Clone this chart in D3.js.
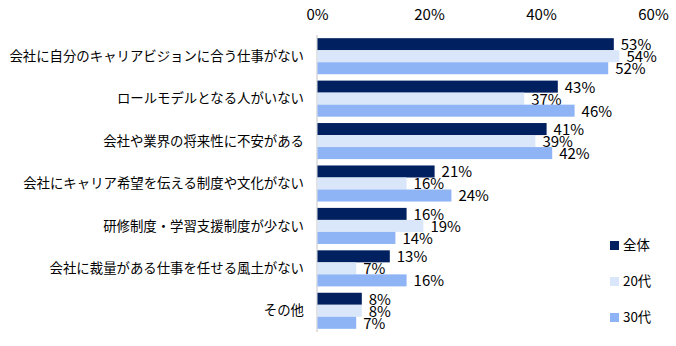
<!DOCTYPE html>
<html><head><meta charset="utf-8">
<script src="https://cdn.jsdelivr.net/npm/d3@7"></script>
<style>body{margin:0;background:#fff}svg{display:block}</style>
</head><body>
<svg id="c" width="676" height="346"></svg>
<script>
const categories = ["会社に自分のキャリアビジョンに合う仕事がない","ロールモデルとなる人がいない","会社や業界の将来性に不安がある","会社にキャリア希望を伝える制度や文化がない","研修制度・学習支援制度が少ない","会社に裁量がある仕事を任せる風土がない","その他"];
const seriesNames = ["全体","20代","30代"];
const total = [53,43,41,21,16,13,8];
const age20 = [54,37,39,16,19,7,8];
const age30 = [52,46,42,24,14,16,7];
const ticks = [0,20,40,60];
const colors = ["#002060","#dae6f9","#8eb4f6"];

const seriesValues = [total, age20, age30];
const svg = d3.select("#c");
const x = d3.scaleLinear().domain([0,60]).range([317,653]);
const y = d3.scaleBand().domain(categories).range([35,332]).paddingInner(0.15).paddingOuter(0.075);
const ys = d3.scaleBand().domain(seriesNames).range([0,y.bandwidth()]);
const jp = "'Noto Sans CJK JP','Noto Sans',sans-serif";
const num = "'Noto Sans CJK JP','Noto Sans',sans-serif";

// top axis labels
const ax = d3.axisTop(x).tickValues(ticks).tickFormat(d=>d+"%").tickSize(0).tickPadding(0);
const axg = svg.append("g").attr("transform","translate(0,20)").call(ax);
axg.select(".domain").remove();
axg.selectAll("text").attr("font-family",num).attr("font-size",15).attr("fill","#000");

// vertical axis line
svg.append("line").attr("x1",x(0)).attr("x2",x(0)).attr("y1",35).attr("y2",332)
  .attr("stroke","#d9d9d9").attr("stroke-width",1.5);

// category labels
svg.append("g").selectAll("text").data(categories).join("text")
  .attr("x",304).attr("y",d=>y(d)+y.bandwidth()/2).attr("dy","0.35em")
  .attr("text-anchor","end").attr("font-family",jp).attr("font-size",13.4).attr("fill","#000")
  .text(d=>d);

// bars
seriesNames.forEach((s,si)=>{
  const g = svg.append("g");
  g.selectAll("rect").data(seriesValues[si]).join("rect")
    .attr("x",x(0)+0.5).attr("y",(d,i)=>y(categories[i])+ys(s))
    .attr("width",d=>x(d)-x(0)-0.5).attr("height",ys.bandwidth())
    .attr("fill",colors[si]);
  g.selectAll("text").data(seriesValues[si]).join("text")
    .attr("x",d=>x(d)+7).attr("y",(d,i)=>y(categories[i])+ys(s)+ys.bandwidth()/2+0.5).attr("dy","0.36em")
    .attr("font-family",num).attr("font-size",15).attr("fill","#000")
    .text(d=>d+"%");
});

// legend
const lg = svg.append("g").selectAll("g").data(seriesNames).join("g")
  .attr("transform",(d,i)=>`translate(610,${241+i*36})`);
lg.append("rect").attr("width",9).attr("height",9).attr("fill",(d,i)=>colors[i]);
lg.append("text").attr("x",13).attr("y",4.5).attr("dy","0.36em")
  .attr("font-family",jp).attr("font-size",13.4).attr("fill","#000").text(d=>d);
</script>
</body></html>
